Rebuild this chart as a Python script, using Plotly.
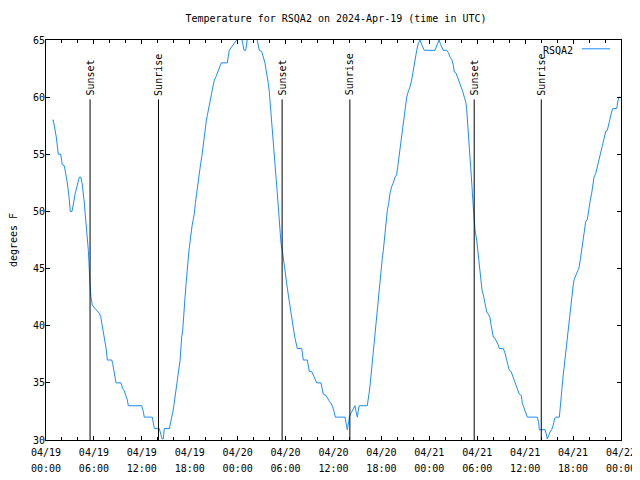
import pandas as pd
import plotly.graph_objects as go

station = "RSQA2"
start = pd.Timestamp("2024-04-19 00:00")
end = pd.Timestamp("2024-04-22 00:00")

hours = [
    0.79, 0.91, 1.29, 1.42, 1.54, 1.84, 2.04, 2.29, 2.50, 2.67, 2.88, 3.04, 3.26, 3.42, 3.67, 3.92,
    4.17, 4.35, 4.51, 4.76, 4.88, 5.01, 5.13, 5.22, 5.30, 5.38, 5.42, 5.51, 5.63, 5.80, 6.14, 6.42,
    6.67, 6.85, 7.01, 7.18, 7.30, 7.43, 7.55, 7.68, 8.23, 8.35, 8.52, 8.64, 8.77, 9.39, 9.60, 9.80,
    10.02, 10.18, 10.31, 11.98, 12.18, 12.31, 13.31, 13.44, 13.56, 14.19, 14.31, 14.53, 14.69, 14.81,
    15.44, 15.61, 15.74, 15.87, 16.03, 16.15, 16.28, 16.40, 16.53, 16.65, 16.78, 16.87, 16.99, 17.12,
    17.19, 17.32, 17.41, 17.53, 17.62, 17.78, 17.91, 18.03, 18.16, 18.28, 18.44, 18.57, 18.70, 18.82,
    18.95, 19.12, 19.25, 19.37, 19.53, 19.66, 19.78, 19.91, 20.07, 20.20, 20.37, 20.54, 20.66, 20.82,
    21.04, 21.29, 21.50, 21.79, 21.95, 22.70, 22.83, 22.95, 23.25, 23.54, 23.88, 24.17, 24.51, 24.63,
    24.79, 25.01, 25.13, 25.30, 26.30, 26.48, 26.58, 26.71, 27.01, 27.21, 27.42, 27.55, 27.71, 27.84,
    27.96, 28.05, 28.17, 28.30, 28.42, 28.55, 28.67, 28.80, 28.93, 29.05, 29.18, 29.30, 29.43, 29.59,
    29.64, 29.80, 29.93, 30.05, 30.22, 30.34, 30.47, 30.64, 30.77, 30.97, 31.18, 31.31, 31.47, 32.02,
    32.14, 32.22, 32.72, 32.85, 32.97, 33.27, 33.47, 33.68, 33.90, 34.44, 34.56, 34.72, 35.06, 35.27,
    35.47, 35.69, 35.90, 36.06, 36.23, 37.44, 37.57, 37.73, 37.90, 37.98, 38.15, 38.32, 38.48, 38.69,
    38.82, 38.98, 39.11, 39.23, 40.23, 40.36, 40.48, 40.61, 40.73, 40.86, 40.98, 41.11, 41.23, 41.36,
    41.49, 41.61, 41.74, 41.86, 41.99, 42.11, 42.24, 42.36, 42.49, 42.61, 42.74, 42.91, 43.08, 43.29,
    43.49, 43.70, 43.91, 44.04, 44.20, 44.33, 44.49, 44.67, 44.83, 44.99, 45.17, 45.37, 45.58, 45.79,
    45.92, 46.04, 46.21, 46.42, 46.62, 46.83, 47.05, 47.37, 48.71, 49.00, 49.21, 49.42, 49.75, 50.18,
    50.38, 50.59, 50.80, 51.00, 51.13, 51.34, 51.50, 51.75, 51.93, 52.18, 52.38, 52.56, 52.68, 52.81,
    52.93, 53.09, 53.22, 53.34, 53.47, 53.59, 53.72, 53.93, 54.06, 54.13, 54.26, 54.35, 54.47, 54.60,
    54.76, 54.89, 55.01, 55.19, 55.39, 55.60, 55.72, 55.85, 56.01, 56.22, 56.44, 56.64, 56.76, 57.26,
    57.48, 57.60, 57.76, 57.89, 58.01, 58.23, 58.44, 58.60, 58.73, 58.94, 59.14, 59.27, 59.52, 59.64,
    59.86, 60.02, 60.27, 61.52, 61.70, 61.77, 62.49, 62.61, 62.77, 62.95, 63.11, 63.32, 63.52, 63.70,
    63.82, 64.28, 64.36, 64.49, 64.61, 64.74, 64.86, 64.99, 65.11, 65.24, 65.36, 65.49, 65.62, 65.74,
    65.87, 65.99, 66.12, 66.24, 66.45, 66.66, 66.78, 66.91, 67.03, 67.16, 67.28, 67.46, 67.58, 67.78,
    67.91, 68.03, 68.16, 68.33, 68.46, 68.62, 68.83, 69.00, 69.16, 69.37, 69.54, 69.71, 69.87, 70.09,
    70.29, 70.46, 70.63, 70.79, 70.96, 71.46, 71.63, 71.75, 71.92,
]

temps = [
    58.0, 58.0, 56.5, 55.4, 55.0, 55.0, 54.1, 54.0, 53.2, 52.5, 51.3, 50.0, 50.0, 50.7, 51.6, 52.3,
    53.0, 53.0, 52.5, 51.0, 50.1, 49.2, 48.4, 47.2, 46.6, 45.5, 44.6, 43.6, 42.5, 41.8, 41.5, 41.3,
    41.1, 40.8, 40.2, 39.6, 39.0, 38.5, 37.9, 37.0, 37.0, 36.7, 36.1, 35.5, 35.0, 35.0, 34.5, 34.3,
    33.9, 33.5, 33.0, 33.0, 32.5, 32.0, 32.0, 31.5, 31.0, 31.0, 30.6, 30.1, 30.1, 31.0,
    31.0, 31.5, 31.9, 32.4, 33.1, 33.8, 34.4, 35.0, 35.8, 36.3, 36.9, 37.9, 39.0, 39.6,
    40.5, 41.6, 42.5, 43.6, 44.6, 45.6, 46.6, 47.5, 48.1, 48.7, 49.3, 49.8, 50.7, 51.4,
    52.2, 52.9, 53.6, 54.2, 54.9, 55.7, 56.4, 57.1, 57.9, 58.4, 59.0, 59.6, 60.2, 60.8,
    61.4, 61.8, 62.2, 62.7, 63.0, 63.0, 63.7, 64.1, 64.4, 64.7, 65.0, 65.5, 65.2, 64.7,
    64.1, 64.1, 64.9, 65.5, 65.5, 65.0, 64.6, 64.1, 64.0, 63.5, 63.0, 62.4, 61.8, 61.2,
    60.5, 59.6, 58.7, 57.6, 56.5, 55.4, 54.2, 53.0, 51.9, 50.7, 49.5, 48.4, 47.2, 46.6,
    46.3, 45.8, 44.9, 44.0, 43.3, 42.7, 42.0, 41.2, 40.6, 39.8, 38.9, 38.5, 38.0, 38.0,
    37.4, 37.0, 37.0, 36.6, 36.0, 36.0, 35.7, 35.4, 35.0, 35.0, 34.5, 34.0, 33.9, 33.6,
    33.4, 33.2, 32.9, 32.5, 32.0, 32.0, 31.6, 30.9, 31.6, 32.0, 32.3, 32.5, 32.8, 33.0,
    32.5, 32.0, 32.6, 33.0, 33.0, 33.5, 34.2, 35.0, 35.9, 36.6, 37.4, 38.5, 39.5, 40.5,
    41.7, 42.7, 43.6, 44.6, 45.3, 45.9, 46.6, 47.5, 48.4, 49.3, 50.1, 50.7, 51.6, 52.2,
    52.5, 53.0, 53.2, 53.9, 54.8, 55.7, 56.5, 57.4, 58.3, 59.2, 60.0, 60.5, 60.9, 61.5,
    62.1, 62.7, 63.4, 64.1, 64.7, 65.0, 64.6, 64.1, 64.1, 64.6, 65.0, 64.6, 64.1, 64.1,
    63.9, 63.5, 63.3, 62.8, 62.2, 62.1, 61.8, 61.4, 60.9, 60.5, 60.0, 59.6, 58.9, 57.7,
    56.5, 54.8, 53.3, 52.2, 50.7, 49.5, 48.4, 47.5, 46.6, 46.5, 45.5, 44.6, 43.7, 43.1,
    42.7, 42.3, 41.7, 41.2, 41.0, 40.7, 40.1, 39.5, 39.0, 38.9, 38.6, 38.3, 38.0, 38.0,
    37.6, 37.3, 36.9, 36.4, 36.1, 36.0, 35.6, 35.2, 35.0, 34.5, 34.2, 34.0, 33.9, 33.2,
    32.8, 32.4, 32.0, 32.0, 31.5, 30.9, 30.9, 30.6, 30.1, 30.4, 30.7, 30.9, 31.3, 31.9,
    32.0, 32.0, 32.5, 33.5, 34.5, 35.5, 36.3, 37.0, 37.9, 38.8, 39.5, 40.2, 41.1, 41.8,
    42.7, 43.4, 44.0, 44.3, 44.6, 44.9, 45.2, 45.8, 46.4, 46.9, 47.5, 48.4, 49.1, 49.3,
    50.0, 50.4, 51.0, 51.6, 52.3, 53.0, 53.3, 53.8, 54.2, 54.8, 55.4, 55.8, 56.4, 57.0,
    57.1, 57.7, 58.2, 58.6, 59.0, 59.0, 59.7, 60.0, 60.0,
]

sunset_times = ["2024-04-19 05:31", "2024-04-20 05:34", "2024-04-21 05:37"]
sunrise_times = ["2024-04-19 14:05", "2024-04-20 14:03", "2024-04-21 14:01"]
marker_top = 59.8

tick_times = ["2024-04-19 00:00", "2024-04-19 06:00", "2024-04-19 12:00", "2024-04-19 18:00",
              "2024-04-20 00:00", "2024-04-20 06:00", "2024-04-20 12:00", "2024-04-20 18:00",
              "2024-04-21 00:00", "2024-04-21 06:00", "2024-04-21 12:00", "2024-04-21 18:00",
              "2024-04-22 00:00"]
date_labels = ["04/19", "04/19", "04/19", "04/19", "04/20", "04/20", "04/20", "04/20",
               "04/21", "04/21", "04/21", "04/21", "04/22"]
time_labels = ["00:00", "06:00", "12:00", "18:00", "00:00", "06:00", "12:00", "18:00",
               "00:00", "06:00", "12:00", "18:00", "00:00"]

FONT = "DejaVu Sans Mono"
LINE_COLOR = "#1a8cff"

times = start + pd.to_timedelta(hours, unit="h")

fig = go.Figure()
fig.add_trace(go.Scatter(x=times, y=temps, mode="lines", name=station,
                         line=dict(color=LINE_COLOR, width=1), showlegend=False,
                         hoverinfo="x+y"))

annotations = []
for label, tlist in (("Sunset", sunset_times), ("Sunrise", sunrise_times)):
    for t in tlist:
        ts = pd.Timestamp(t)
        fig.add_trace(go.Scatter(x=[ts, ts], y=[30, marker_top], mode="lines",
                                 line=dict(color="black", width=1), showlegend=False,
                                 hoverinfo="skip"))
        annotations.append(dict(x=ts, y=marker_top, xref="x", yref="y", text=label,
                                textangle=-90, showarrow=False, xanchor="center",
                                yanchor="bottom", yshift=2,
                                font=dict(family=FONT, size=10, color="black")))

# invisible trace to carry the second (time-of-day) label axis
fig.add_trace(go.Scatter(x=[start, end], y=[30, 30], xaxis="x2", mode="markers",
                         marker=dict(opacity=0), showlegend=False, hoverinfo="skip"))

# legend-like key (gnuplot style: text then sample line)
annotations.append(dict(x=0.92, y=0.975, xref="paper", yref="paper", text=station,
                        showarrow=False, xanchor="right", yanchor="middle",
                        font=dict(family=FONT, size=10, color="black")))

# page body has an 8px margin, so the figure is sized to fit the 640x480 window
fig.update_layout(
    width=632, height=472,
    margin=dict(l=38, r=19, t=32, b=40),
    paper_bgcolor="white", plot_bgcolor="white",
    font=dict(family=FONT, size=10, color="black"),
    title=dict(text=f"Temperature for {station} on 2024-Apr-19 (time in UTC)",
               x=0.519, xanchor="center", y=0.977, yanchor="middle",
               font=dict(family=FONT, size=10, color="black")),
    annotations=annotations,
    shapes=[dict(type="line", xref="paper", yref="paper", x0=0.932, x1=0.981,
                 y0=0.978, y1=0.978, line=dict(color=LINE_COLOR, width=1))],
    xaxis=dict(range=[start, end], tickmode="array", tickvals=pd.to_datetime(tick_times),
               ticktext=date_labels, ticks="inside", ticklen=4, tickcolor="black",
               showline=True, linecolor="black", linewidth=1, mirror="ticks",
               showgrid=False, zeroline=False, ticklabelstandoff=3, automargin=False,
               tickfont=dict(family=FONT, size=10, color="black"),
               minor=dict(dtick=2 * 3600 * 1000, tick0=start, ticks="inside", ticklen=3,
                          tickcolor="black", showgrid=False)),
    xaxis2=dict(range=[start, end], overlaying="x", anchor="y", side="bottom",
                tickmode="array", tickvals=pd.to_datetime(tick_times), ticktext=time_labels,
                ticks="", showline=False, showgrid=False, zeroline=False,
                ticklabelstandoff=21, automargin=False,
                tickfont=dict(family=FONT, size=10, color="black")),
    yaxis=dict(range=[30, 65], dtick=5, tick0=30, ticks="inside", ticklen=4, tickcolor="black",
               showline=True, linecolor="black", linewidth=1, mirror="ticks",
               showgrid=False, zeroline=False, automargin=False, ticklabelstandoff=-2,
               tickfont=dict(family=FONT, size=10, color="black"),
               title=dict(text="degrees F", standoff=14,
                          font=dict(family=FONT, size=10, color="black"))),
)

fig.write_html("out.html")
